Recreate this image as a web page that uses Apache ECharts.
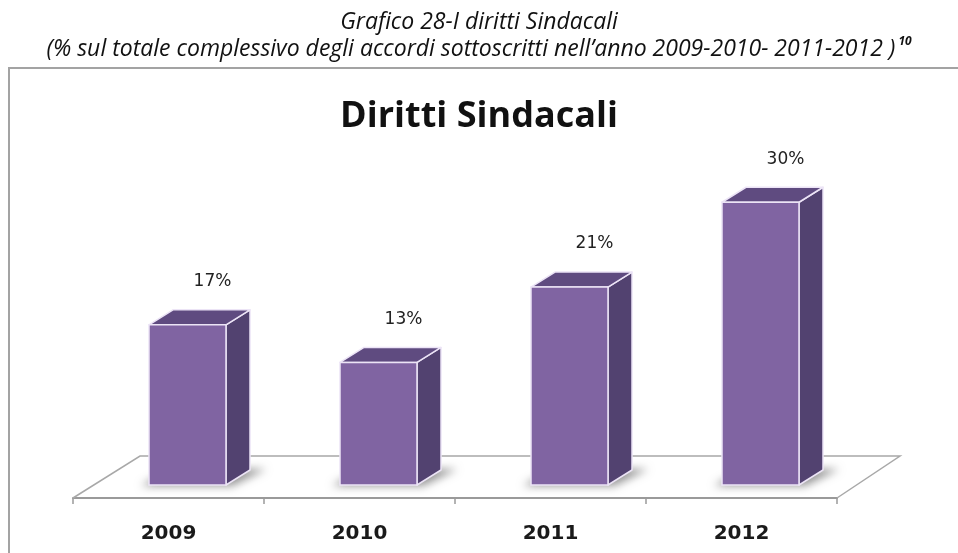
<!DOCTYPE html>
<html>
<head>
<meta charset="utf-8">
<script src="https://cdn.jsdelivr.net/npm/echarts@6/dist/echarts.min.js"></script>
<style>
  html, body { margin: 0; padding: 0; background: #ffffff; }
  #chart { width: 958px; height: 553px; }
</style>
</head>
<body>
<div id="chart"></div>
<script>
// Anni e quota di accordi con clausole sui diritti sindacali (%)
const years = ['2009', '2010', '2011', '2012'];
const shares = [17, 13, 21, 30];

const heading = 'Grafico 28-I diritti Sindacali';
const subheading = '(% sul totale complessivo degli accordi sottoscritti nell\u2019anno 2009-2010- 2011-2012 )';
const footnoteMark = '10';
const chartTitle = 'Diritti Sindacali';

// pseudo-3D geometry (pixels)
const FRONT_LEFT = -19.5, FRONT_RIGHT = 57.5;  // front face relative to category centre
const LIFT = 13;                                 // bar base sits behind the front edge of the floor
const DEPTH = [24, -15];                         // box depth vector
const FLOOR_DEPTH_L = [67, -42], FLOOR_DEPTH_R = [63, -42];

const headFont = 'Open Sans, Noto Sans, sans-serif';

function renderFloor(params, api) {
  const cs = params.coordSys;
  const yb = cs.y + cs.height;
  const x0 = cs.x, x1 = cs.x + cs.width;
  return {
    type: 'polyline',
    shape: {
      points: [
        [x0, yb],
        [x0 + FLOOR_DEPTH_L[0], yb + FLOOR_DEPTH_L[1]],
        [x1 + FLOOR_DEPTH_R[0], yb + FLOOR_DEPTH_R[1]],
        [x1, yb]
      ]
    },
    style: { stroke: '#a8a8a8', lineWidth: 1.5, fill: null }
  };
}

function renderBar(params, api) {
  const i = api.value(0), v = api.value(1);
  const base = api.coord([i, 0]);
  const peak = api.coord([i, v]);
  const cx = base[0];
  const L = cx + FRONT_LEFT, R = cx + FRONT_RIGHT;
  const B = base[1] - LIFT, T = peak[1] - LIFT;
  const dx = DEPTH[0], dy = DEPTH[1];
  const edge = '#ece4f6';
  const FAR = 3000;
  return {
    type: 'group',
    children: [
      // soft shadow on the floor (shape drawn off-canvas, only its blurred shadow lands here)
      {
        type: 'polygon',
        shape: { points: [[L - 8 + FAR, B + 1], [R + 6 + FAR, B + 1], [R + dx + 16 + FAR, B + dy - 1], [L + dx - 4 + FAR, B + dy - 1]] },
        style: { fill: '#000', shadowBlur: 8, shadowColor: 'rgba(80,80,80,0.6)', shadowOffsetX: -FAR, shadowOffsetY: 0 }
      },
      {
        type: 'polygon',
        shape: { points: [[R, B], [R, T], [R + dx, T + dy], [R + dx, B + dy]] },
        style: { fill: '#524270', stroke: edge, lineWidth: 1.5, lineJoin: 'round' }
      },
      {
        type: 'polygon',
        shape: { points: [[L, T], [R, T], [R + dx, T + dy], [L + dx, T + dy]] },
        style: { fill: '#5f4b80', stroke: edge, lineWidth: 1.5, lineJoin: 'round' }
      },
      {
        type: 'rect',
        shape: { x: L, y: T, width: R - L, height: B - T },
        style: { fill: '#8064a2', stroke: edge, lineWidth: 1.5 }
      },
      {
        type: 'text',
        style: {
          text: v + '%', x: cx + 44, y: peak[1] - 56,
          align: 'center', verticalAlign: 'middle',
          fontFamily: 'DejaVu Sans', fontSize: 17, fill: '#222222'
        }
      }
    ]
  };
}

const chart = echarts.init(document.getElementById('chart'), null, { renderer: 'canvas' });

chart.setOption({
  backgroundColor: '#ffffff',
  animation: false,
  title: [
    {
      text: heading, left: 'center', top: 6,
      textStyle: { fontFamily: headFont, fontStyle: 'italic', fontWeight: 'normal', fontSize: 23, color: '#111111' }
    },
    {
      text: '{a|' + subheading + '}{s|' + footnoteMark + '}', left: 'center', top: 31,
      textStyle: {
        fontWeight: 'normal',
        rich: {
          a: { fontFamily: headFont, fontStyle: 'italic', fontWeight: 'normal', fontSize: 23, color: '#111111', lineHeight: 26 },
          s: { fontFamily: headFont, fontStyle: 'italic', fontWeight: 'bold', fontSize: 12, color: '#111111', verticalAlign: 'top', padding: [0, 0, 0, 3] }
        }
      }
    },
    {
      text: chartTitle, left: 'center', top: 94,
      textStyle: { fontFamily: 'Open Sans, Noto Sans, sans-serif', fontWeight: 'bold', fontSize: 36, color: '#111111' }
    }
  ],
  graphic: [
    {
      type: 'rect', z: -1, silent: true,
      shape: { x: 9, y: 68, width: 1000, height: 600 },
      style: { fill: null, stroke: '#a3a3a3', lineWidth: 2 }
    }
  ],
  grid: { left: 73, right: 121, top: 121, bottom: 55 },
  xAxis: {
    type: 'category',
    data: years,
    boundaryGap: true,
    axisLine: { lineStyle: { color: '#9a9a9a', width: 2 } },
    axisTick: { show: true, length: 6, lineStyle: { color: '#9a9a9a', width: 1.5 } },
    axisLabel: { fontFamily: 'DejaVu Sans', fontWeight: 'bold', fontSize: 20, color: '#1a1a1a', margin: 26 }
  },
  yAxis: { type: 'value', min: 0, max: 40, show: false, splitLine: { show: false } },
  series: [
    {
      type: 'custom', name: 'floor', z: 1, silent: true,
      renderItem: renderFloor,
      data: [[0, 0]]
    },
    {
      type: 'custom', name: chartTitle, z: 3,
      renderItem: renderBar,
      encode: { x: 0, y: 1 },
      data: years.map((y, i) => [i, shares[i]])
    }
  ]
});
</script>
</body>
</html>
